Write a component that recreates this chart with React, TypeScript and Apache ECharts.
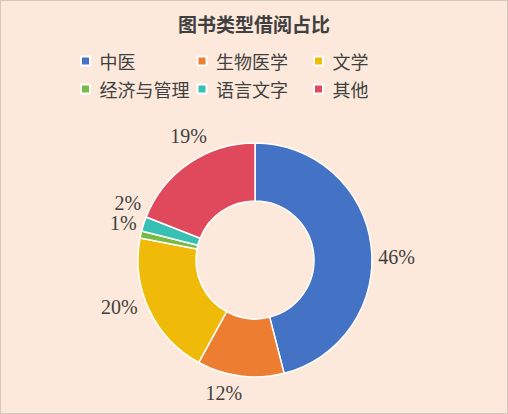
import { useEffect, useRef } from "react"
import * as echarts from "echarts"

const categories = ["中医", "生物医学", "文学", "经济与管理", "语言文字", "其他"]
const shares = [46, 12, 20, 1, 2, 19]
const colors = ["#4472C4", "#ED7D31", "#F0BA08", "#76BC44", "#38C0B4", "#E0485C"]
const legendRows = [categories.slice(0, 3), categories.slice(3)]

const textColor = "#404040"
const cjk = "'Noto Sans CJK SC', sans-serif"

const pieCenter = [254, 259]
const pieRadius = [59, 117]
// labels sit a little clockwise of the slice middle, just outside the ring
const labelAngleShift = 6
const labelGap = 6

export default function App() {
  const chartRef = useRef<HTMLDivElement>(null)

  useEffect(() => {
    if (!chartRef.current) return
    const chart = echarts.init(chartRef.current, null, { renderer: "svg" })

    const total = shares.reduce((a, b) => a + b, 0)
    const starts: number[] = []
    shares.reduce((acc, v, i) => {
      starts[i] = acc
      return acc + v
    }, 0)

    const legends = legendRows.map((row, i) => ({
      data: row,
      orient: "horizontal",
      left: 79,
      top: 50 + i * 28,
      padding: 0,
      icon: "path://M0,0H10V10H0Z",
      itemWidth: 18,
      itemHeight: 9,
      itemGap: 7,
      textStyle: {
        color: textColor,
        fontSize: 18,
        fontFamily: cjk,
        width: 90,
        lineHeight: 20
      }
    }))

    chart.setOption({
      animation: false,
      backgroundColor: "#FDE9DB",
      title: {
        text: "图书类型借阅占比",
        left: "center",
        top: 8,
        textStyle: {
          color: textColor,
          fontSize: 19,
          fontWeight: "bold",
          fontFamily: cjk
        }
      },
      legend: legends,
      series: [
        {
          type: "pie",
          center: pieCenter,
          radius: pieRadius,
          startAngle: 90,
          clockwise: true,
          itemStyle: {
            borderColor: "#ffffff",
            borderWidth: 1.5
          },
          label: {
            show: true,
            position: "outside",
            formatter: "{c}%",
            color: textColor,
            fontSize: 20,
            fontFamily: "'Liberation Serif', serif"
          },
          labelLine: { show: false },
          labelLayout: (params: any) => {
            const i = params.dataIndex
            const mid = ((starts[i] + shares[i] / 2) / total) * 360 + labelAngleShift
            const rad = (mid * Math.PI) / 180
            const dx = Math.sin(rad)
            const dy = -Math.cos(rad)
            const w = params.labelRect.width
            const h = params.labelRect.height
            const d = pieRadius[1] + labelGap + Math.abs(dx) * w / 2 + Math.abs(dy) * h / 2
            return {
              x: pieCenter[0] + dx * d,
              y: pieCenter[1] + dy * d,
              align: "center",
              verticalAlign: "middle",
              moveOverlap: "shiftY"
            }
          },
          emphasis: { disabled: true },
          data: categories.map((name, i) => ({
            name,
            value: shares[i],
            itemStyle: { color: colors[i] }
          }))
        }
      ]
    })

    return () => {
      chart.dispose()
    }
  }, [])

  return (
    <div
      style={{
        position: "fixed",
        left: 0,
        top: 0,
        width: 508,
        height: 414,
        boxSizing: "border-box",
        border: "1px solid #d4c8be",
        background: "#FDE9DB"
      }}
    >
      <div ref={chartRef} style={{ width: 506, height: 412 }} />
    </div>
  )
}
